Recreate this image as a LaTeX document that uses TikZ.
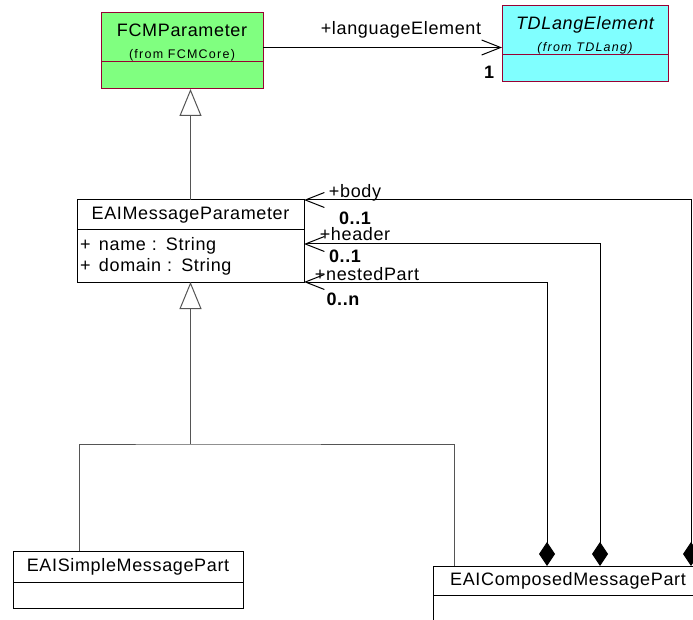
\documentclass[tikz,border=0pt]{standalone}
\usepackage{fontspec}
\setmainfont{Liberation Sans}
\usepackage{xcolor}
\usetikzlibrary{arrows.meta, positioning}

\definecolor{fcmgreen}{RGB}{128,255,128}
\definecolor{tdlcyan}{RGB}{128,255,255}
\definecolor{roseborder}{RGB}{153,0,51}
\definecolor{genline}{RGB}{85,85,85}

\newcommand{\bigtext}{\addfontfeature{LetterSpace=3.6}\fontsize{18}{21}\selectfont}
\newcommand{\smalltext}{\addfontfeature{LetterSpace=10}\fontsize{12.5}{14}\selectfont}

\begin{document}
\begin{tikzpicture}[x=1pt, y=-1pt,
    head/.style={rectangle, draw, line width=1pt, outer sep=0pt, inner sep=0pt, align=center, anchor=north west, font=\bigtext},
    body/.style={rectangle, draw, line width=1pt, outer sep=0pt, inner sep=0pt, font=\bigtext},
    role/.style={inner sep=0pt, font=\bigtext},
    mult/.style={inner sep=0pt, font=\bigtext\bfseries},
    assoc/.style={line width=1pt, -{Straight Barb[length=19pt, width=15pt]}},
    comp/.style={line width=1pt, {Diamond[length=24pt, width=16pt]}-{Straight Barb[length=19pt, width=15pt]}},
    gen/.style={line width=1pt, draw=genline, -{Triangle[open, length=27pt, width=22pt, fill=white]}},
    genlink/.style={line width=1pt, draw=genline}
]
    \useasboundingbox (0,0) rectangle (693,620);
    \clip (0,0) rectangle (693,620);

    % classes
    \node[head, fill=fcmgreen, draw=roseborder, minimum width=162pt, minimum height=49pt] (fcm) at (101,13)
        {\rule{0pt}{22pt}FCMParameter\\[1pt]{\smalltext (from FCMCore)}};
    \node[body, fill=fcmgreen, draw=roseborder, minimum width=162pt, minimum height=27pt, below=0pt of fcm] (fcmBody) {};

    \node[head, fill=tdlcyan, draw=roseborder, minimum width=166pt, minimum height=49pt] (td) at (502,6)
        {\rule{0pt}{22pt}\itshape TDLangElement\\[1pt]{\smalltext\itshape (from TDLang)}};
    \node[body, fill=tdlcyan, draw=roseborder, minimum width=166pt, minimum height=27pt, below=0pt of td] (tdBody) {};

    \node[head, minimum width=227pt, minimum height=30pt] (msg) at (77,200) {EAIMessageParameter};
    \node[body, minimum width=227pt, minimum height=52pt, text width=221pt, inner xsep=3pt, align=left, below=0pt of msg] (msgBody)
        {\makebox[19pt][l]{+}name : String\\\makebox[19pt][l]{+}domain : String};

    \node[head, minimum width=230pt, minimum height=31pt] (simple) at (13,551) {EAISimpleMessagePart};
    \node[body, minimum width=230pt, minimum height=26pt, below=0pt of simple] (simpleBody) {};

    \node[head, minimum width=282pt, minimum height=29pt] (comp) at (433,566) {EAIComposedMessagePart\hspace{12pt}};
    \node[body, minimum width=282pt, minimum height=60pt, below=0pt of comp] (compBody) {};

    % association to the language element
    \draw[assoc] ([yshift=-10pt]fcm.east) -- ([yshift=-10pt]fcm.east -| td.west);
    \node[role] (langRole) at (401,30) {+languageElement};
    \node[mult] (langMult) at (489,72) {1};

    % generalizations
    \draw[gen] (msg.north) -- (msg.north |- fcmBody.south);
    \coordinate (genSplit) at ([yshift=-162pt]msgBody.south);
    \draw[gen] (genSplit) -- (msgBody.south);
    \draw[genlink] ([xshift=-49pt]simple.north) |- (genSplit) -| ([xshift=21pt]comp.north west);

    % compositions
    \draw[comp] ([xshift=258pt]comp.north west) |- (msg.north east);
    \draw[comp] ([xshift=167pt]comp.north west) |- ([yshift=-14pt]msgBody.north east);
    \draw[comp] ([xshift=114pt]comp.north west) |- (msgBody.south east);

    \node[role] (bodyRole) at (355,193) {+body};
    \node[mult] (bodyMult) at (355,218) {0..1};
    \node[role] (headerRole) at (355,234) {+header};
    \node[mult] (headerMult) at (345,256) {0..1};
    \node[role] (nestedRole) at (367,274) {+nestedPart};
    \node[mult] (nestedMult) at (343,299) {0..n};
\end{tikzpicture}
\end{document}
